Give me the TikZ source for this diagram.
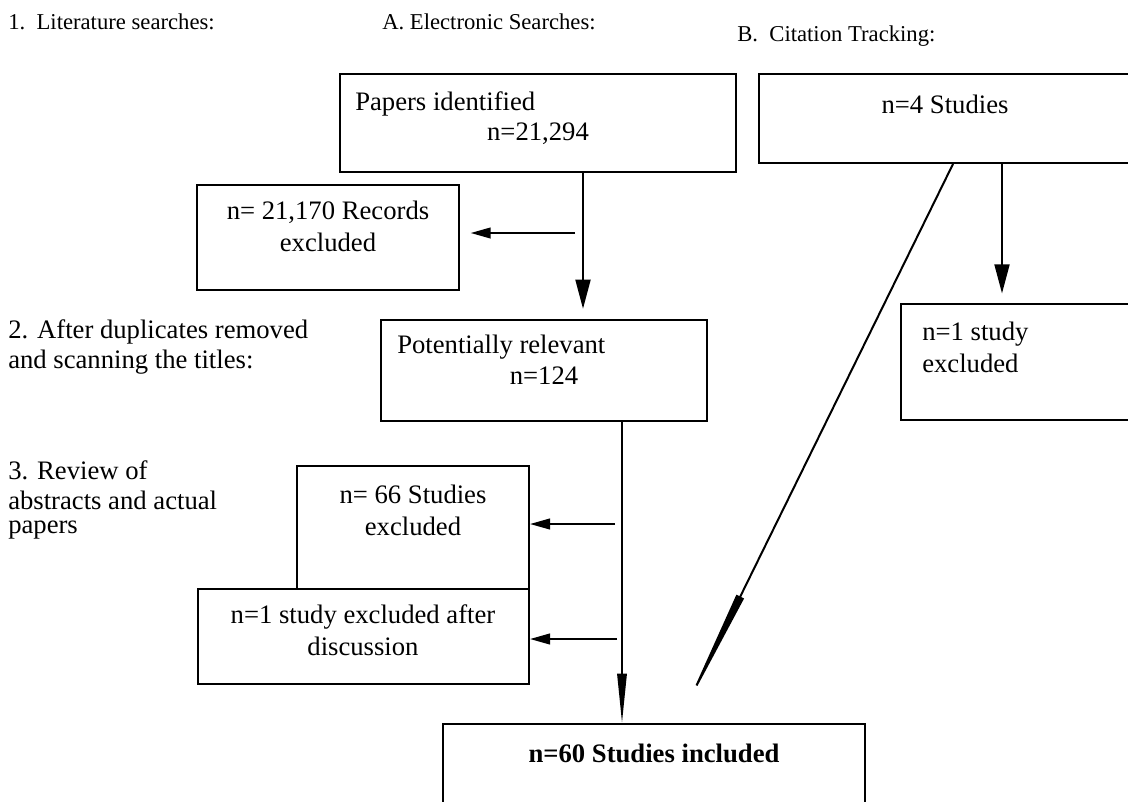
\documentclass[tikz,border=0pt]{standalone}
\usepackage{fontspec}
\setmainfont{Liberation Serif}
\usetikzlibrary{arrows.meta,fit}
\begin{document}
\begin{tikzpicture}[x=0.75pt,y=-0.75pt,
  box/.style={draw, line width=1.5pt, inner sep=0pt},
  txt/.style={font=\fontsize{20}{24}\selectfont, inner sep=0pt},
  lefttxt/.style={txt, anchor=west},
  headtxt/.style={font=\fontsize{17}{20}\selectfont, inner sep=0pt, anchor=west},
  sidearrow/.style={line width=1.5pt, -{Triangle[length=15pt,width=8pt]}},
  bigarrow/.style={line width=2.2pt, -{Triangle[length=22pt,width=11pt]}},
  longarrow/.style={line width=1.5pt, -{Triangle[length=37pt,width=7pt]}},
  diagarrow/.style={line width=1.5pt, -{Triangle[length=99pt,width=6pt]}}]
\useasboundingbox (0,0) rectangle (1128,801);
\clip (0,0) rectangle (1128,801);

% column and step headings
\node[headtxt] (h1) at (8,22) {1.\enspace Literature searches:};
\node[headtxt] (hA) at (382,22) {A. Electronic Searches:};
\node[headtxt] (hB) at (737,36) {B.\enspace Citation Tracking:};
\node[lefttxt] (s2a) at (8,332) {2. After duplicates removed};
\node[lefttxt] (s2b) at (8,362) {and scanning the titles:};
\node[lefttxt] (s3a) at (8,470) {3. Review of};
\node[lefttxt] (s3b) at (8,500) {abstracts and actual};
\node[lefttxt] (s3c) at (8,530) {papers};

% boxes
\node[box, fit={(340,74) (736,172)}] (papers) {};
\node[box, fit={(759,74) (1131,163)}] (cite) {};
\node[box, fit={(197,185) (459,290)}] (rec) {};
\node[box, fit={(381,320) (707,421)}] (pot) {};
\node[box, fit={(901,304) (1140,420)}] (cexcl) {};
\node[box, fit={(297,466) (529,589)}] (s66) {};
\node[box, fit={(198,589) (529,684)}] (s1) {};
\node[box, fit={(443,724) (865,840)}] (incl) {};

% box texts
\node[lefttxt] (t1) at (355,104) {Papers identified};
\node[txt] (t2) at (538,134) {n=21,294};
\node[txt] (t3) at (945,104) {n=4 Studies};
\node[txt, align=center] (t4) at (328,226) {n= 21,170 Records\\excluded};
\node[lefttxt] (t5) at (397,347) {Potentially relevant};
\node[txt] (t6) at (544,376) {n=124};
\node[lefttxt, align=left] (t7) at (922,347) {n=1 study\\excluded};
\node[txt, align=center] (t8) at (413,510) {n= 66 Studies\\excluded};
\node[txt, align=center] (t9) at (363,630) {n=1 study excluded after\\discussion};
\node[txt, font=\fontsize{20}{24}\selectfont\bfseries] (t10) at (654,753) {n=60 Studies included};

% connectors
\coordinate (xa) at (583,0);
\coordinate (xb) at (1002,0);
\coordinate (xc) at (622,0);
\coordinate (xd) at (953,0);
\coordinate (ha) at (575,233);
\coordinate (hb) at (615,524);
\coordinate (hc) at (617,639);
\coordinate (dend) at (682,715);

\draw[bigarrow, shorten >=7.5pt] (papers.south -| xa) -- (pot.north -| xa);
\draw[sidearrow, shorten >=8pt] (ha) -- (rec.east |- ha);
\draw[bigarrow, shorten >=7pt] (cite.south -| xb) -- (cexcl.north -| xb);
\draw[longarrow] (pot.south -| xc) -- (incl.north -| xc);
\draw[sidearrow] (hb) -- (s66.east |- hb);
\draw[sidearrow] (hc) -- (s1.east |- hc);
\draw[diagarrow] (cite.south -| xd) -- (dend);
\end{tikzpicture}
\end{document}
